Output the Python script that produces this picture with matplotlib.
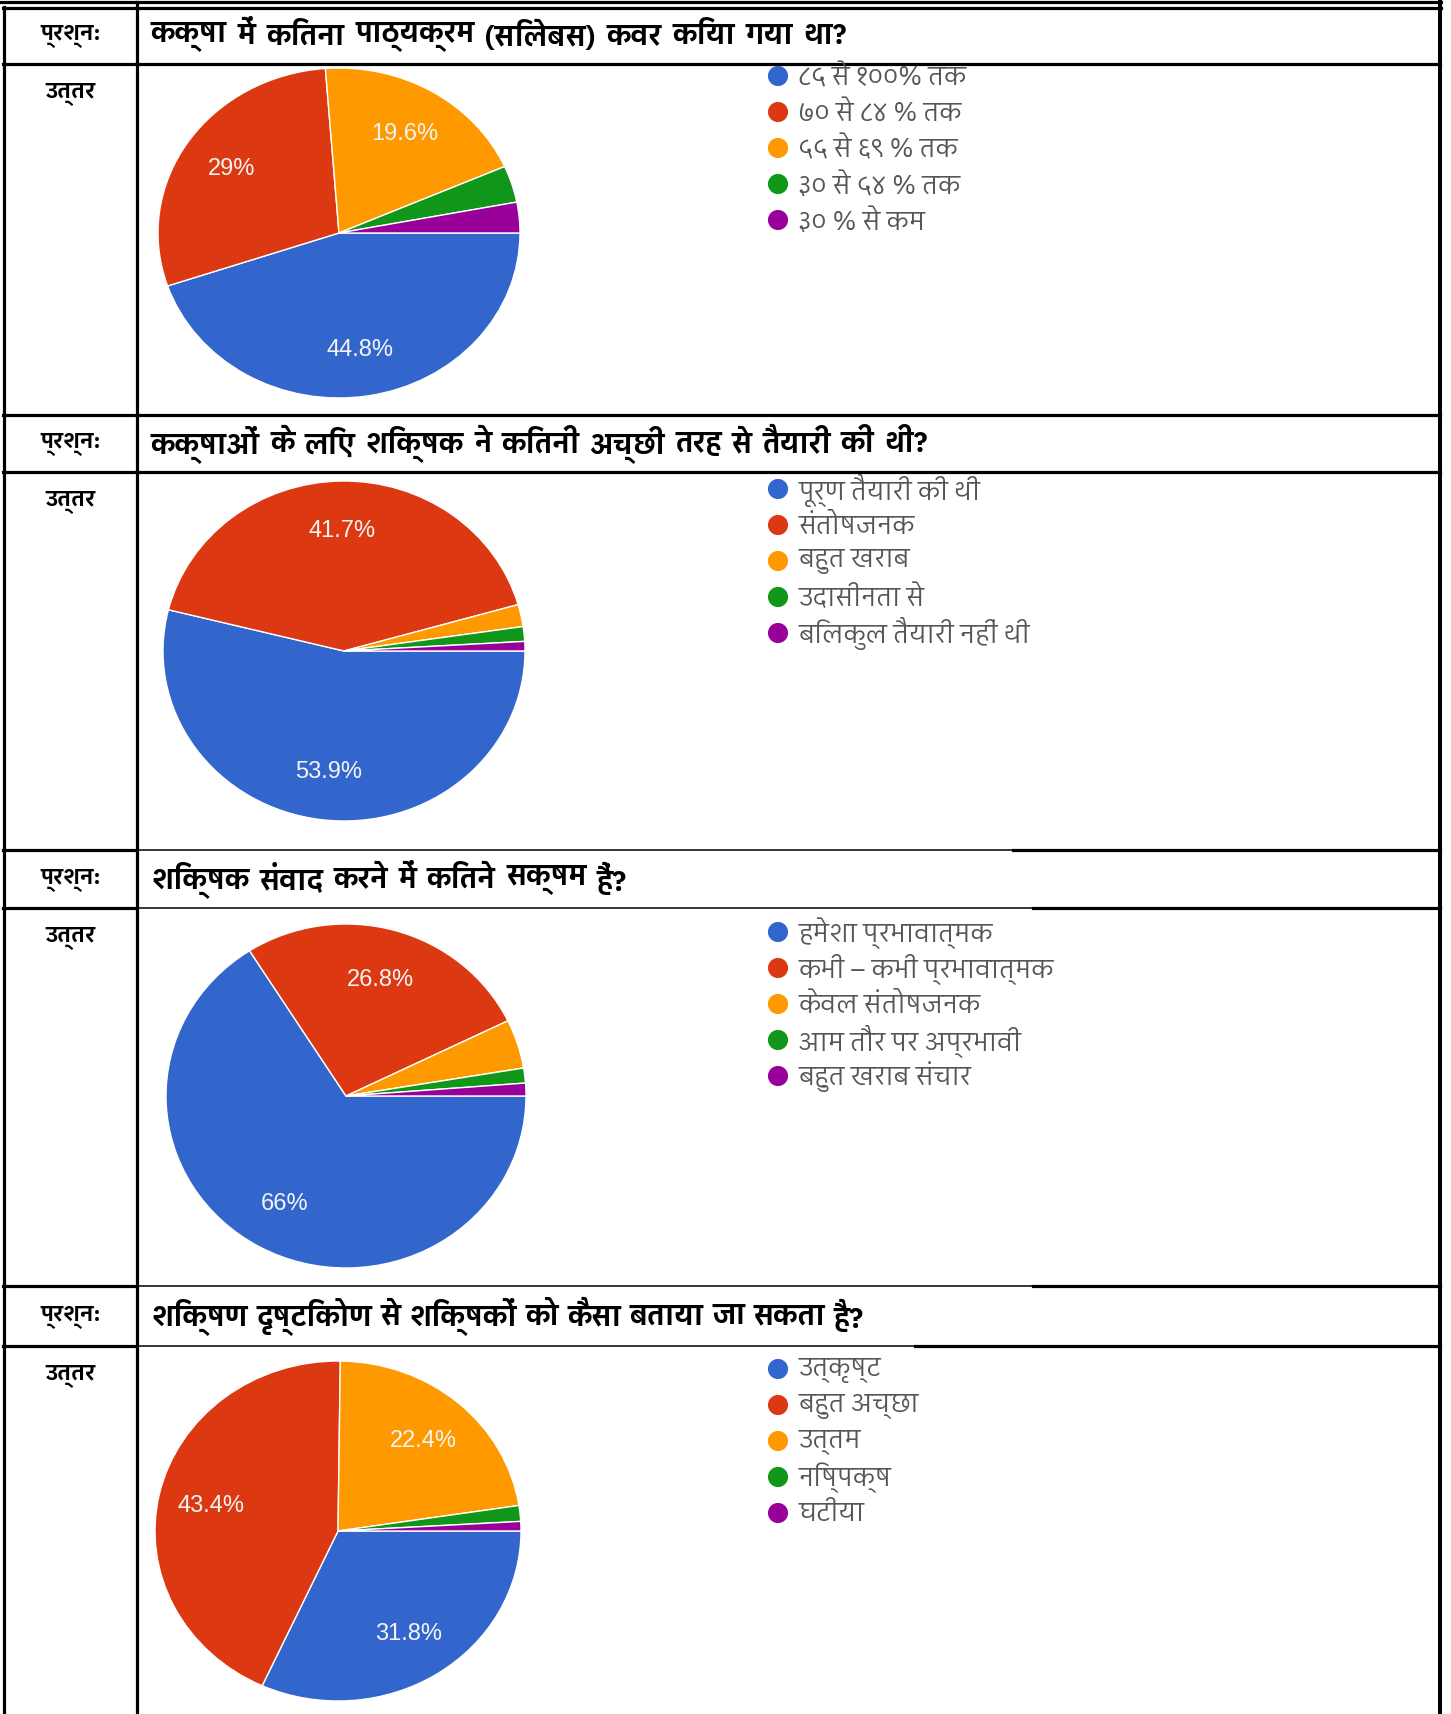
import numpy as np
import matplotlib
matplotlib.use("Agg")
import matplotlib.pyplot as plt
from matplotlib import font_manager
from matplotlib.ft2font import FT2Font


def _find_devanagari_font():
    # look for installed fonts that have Devanagari glyphs, prefer ones with a bold face
    found = {}
    for f in font_manager.fontManager.ttflist:
        try:
            cmap = FT2Font(f.fname).get_charmap()
        except Exception:
            continue
        if 0x0915 in cmap:
            found.setdefault(f.name, set()).add(f.weight)
    if not found:
        return None
    def score(name):
        w = found[name]
        has_bold = any((isinstance(x, int) and x >= 600) or x == "bold" for x in w)
        return (("Devanagari" in name), has_bold)
    return sorted(found, key=score, reverse=True)[0]


deva = _find_devanagari_font()
TEXT_FONTS = ([deva] if deva else []) + ["Liberation Sans", "DejaVu Sans"]
plt.rcParams["font.family"] = TEXT_FONTS

W, H = 1451, 1715

questions = [
    "कक्षा में कितना पाठ्यक्रम (सिलेबस) कवर किया गया था?",
    "कक्षाओं के लिए शिक्षक ने कितनी अच्छी तरह से तैयारी की थी?",
    "शिक्षक संवाद करने में कितने सक्षम हैं?",
    "शिक्षण दृष्टिकोण से शिक्षकों को कैसा बताया जा सकता है?",
]

labels_q1 = ["८५ से १००% तक", "७० से ८४ % तक", "५५ से ६९ % तक", "३० से ५४ % तक", "३० % से कम"]
labels_q2 = ["पूर्ण तैयारी की थी", "संतोषजनक", "बहुत खराब", "उदासीनता से", "बिलकुल तैयारी नहीं थी"]
labels_q3 = ["हमेशा प्रभावात्मक", "कभी – कभी प्रभावात्मक", "केवल संतोषजनक", "आम तौर पर अप्रभावी", "बहुत खराब संचार"]
labels_q4 = ["उत्कृष्ट", "बहुत अच्छा", "उत्तम", "निष्पक्ष", "घटीया"]

values_q1 = [44.8, 29.0, 19.6, 3.6, 3.0]
values_q2 = [53.9, 41.7, 2.1, 1.4, 0.9]
values_q3 = [66.0, 26.8, 4.6, 1.4, 1.2]
values_q4 = [31.8, 43.4, 22.4, 1.5, 0.9]

colors = ["#3366cc", "#dc3912", "#ff9900", "#109618", "#990099"]

# layout (pixels): question rows, pie centres / radii, target text widths
q_rows = [(8, 65), (416, 473), (851, 909), (1287, 1347)]
pie_geom = [(339, 234, 181, 165), (344, 652, 181, 170), (346, 1097, 180, 172), (338, 1532, 183, 170)]
q_widths = [696, 777, 476, 713]
legend_x = 778
legend_w0 = 168  # width of the first legend entry

fig = plt.figure(figsize=(W / 100, H / 100), dpi=100)
renderer = fig.canvas.get_renderer()
bg = fig.add_axes([0, 0, 1, 1])
bg.set_xlim(0, W)
bg.set_ylim(H, 0)
bg.axis("off")


def text_width(text, size, **kw):
    t = bg.text(0, 0, text, fontsize=size, **kw)
    w = t.get_window_extent(renderer).width
    t.remove()
    return w


thick = 2.3
thin = 1.1
# outer frame and column divider
bg.plot([0, 1441], [3, 3], color="black", lw=thick)
bg.plot([3, 1441], [8.5, 8.5], color="black", lw=thick)
bg.plot([3.5, 3.5], [8, H], color="black", lw=thick)
bg.plot([136.5, 136.5], [3, H], color="black", lw=thick)
bg.plot([1439.5, 1439.5], [3, H], color="black", lw=thick + 0.6)
# row lines
for y in [65, 416, 473]:
    bg.plot([3, 1440], [y, y], color="black", lw=thick)
for y, xs in [(851, 1013), (909, 1033), (1287, 1033), (1347, 915)]:
    bg.plot([3, 137], [y, y], color="black", lw=thick)
    bg.plot([137, xs], [y, y], color="black", lw=thin)
    bg.plot([xs, 1440], [y, y], color="black", lw=thick)

all_labels = [labels_q1, labels_q2, labels_q3, labels_q4]
all_values = [values_q1, values_q2, values_q3, values_q4]

bold = dict(fontweight="bold")
q_size = 20
head_size = min(19 * 60 / text_width("प्रश्न:", 19, **bold), 21)
ans_size = min(19 * 50 / text_width("उत्तर", 19, **bold), 21)
leg_size = 15 * legend_w0 / text_width(labels_q1[0], 15)


def pct_fmt(p):
    if p < 5:
        return ""
    s = f"{p:.1f}".rstrip("0").rstrip(".")
    return s + "%"


for i, (q, labs, vals) in enumerate(zip(questions, all_labels, all_values)):
    top, bot = q_rows[i]
    yc = (top + bot) / 2
    bg.text(40, yc, "प्रश्न:", fontsize=head_size, va="center", ha="left", **bold)
    bg.text(45, bot + 29, "उत्तर", fontsize=ans_size, va="center", ha="left", **bold)

    # question words spread out like the justified text in the source
    words = q.split(" ")
    ww = [text_width(wd, q_size, **bold) for wd in words]
    gap = (q_widths[i] - sum(ww)) / (len(words) - 1)
    x = 151
    for wd, w in zip(words, ww):
        bg.text(x, yc, wd, fontsize=q_size, va="center", ha="left", **bold)
        x += w + gap

    cx, cy, rx, ry = pie_geom[i]
    ax = fig.add_axes([(cx - rx) / W, 1 - (cy + ry) / H, 2 * rx / W, 2 * ry / H])
    wedges, texts, autotexts = ax.pie(
        vals, colors=colors, startangle=0, counterclock=False, radius=1,
        autopct=pct_fmt, pctdistance=0.71,
        wedgeprops=dict(edgecolor="white", linewidth=1.0),
        textprops=dict(color="#f4f4f4", fontsize=17, family=["Liberation Sans", "DejaVu Sans"]),
    )
    ax.set_aspect("auto")
    ax.set_xlim(-1, 1)
    ax.set_ylim(-1, 1)
    ax.axis("off")

    # legend
    ly0 = cy - ry + 8
    for k, lab in enumerate(labs):
        ly = ly0 + k * 36
        bg.scatter([legend_x], [ly], s=210, color=colors[k], edgecolors="none", zorder=3)
        bg.text(legend_x + 20, ly, lab, fontsize=leg_size, color="#555555", va="center", ha="left")

fig.savefig("out.png", dpi=100)
